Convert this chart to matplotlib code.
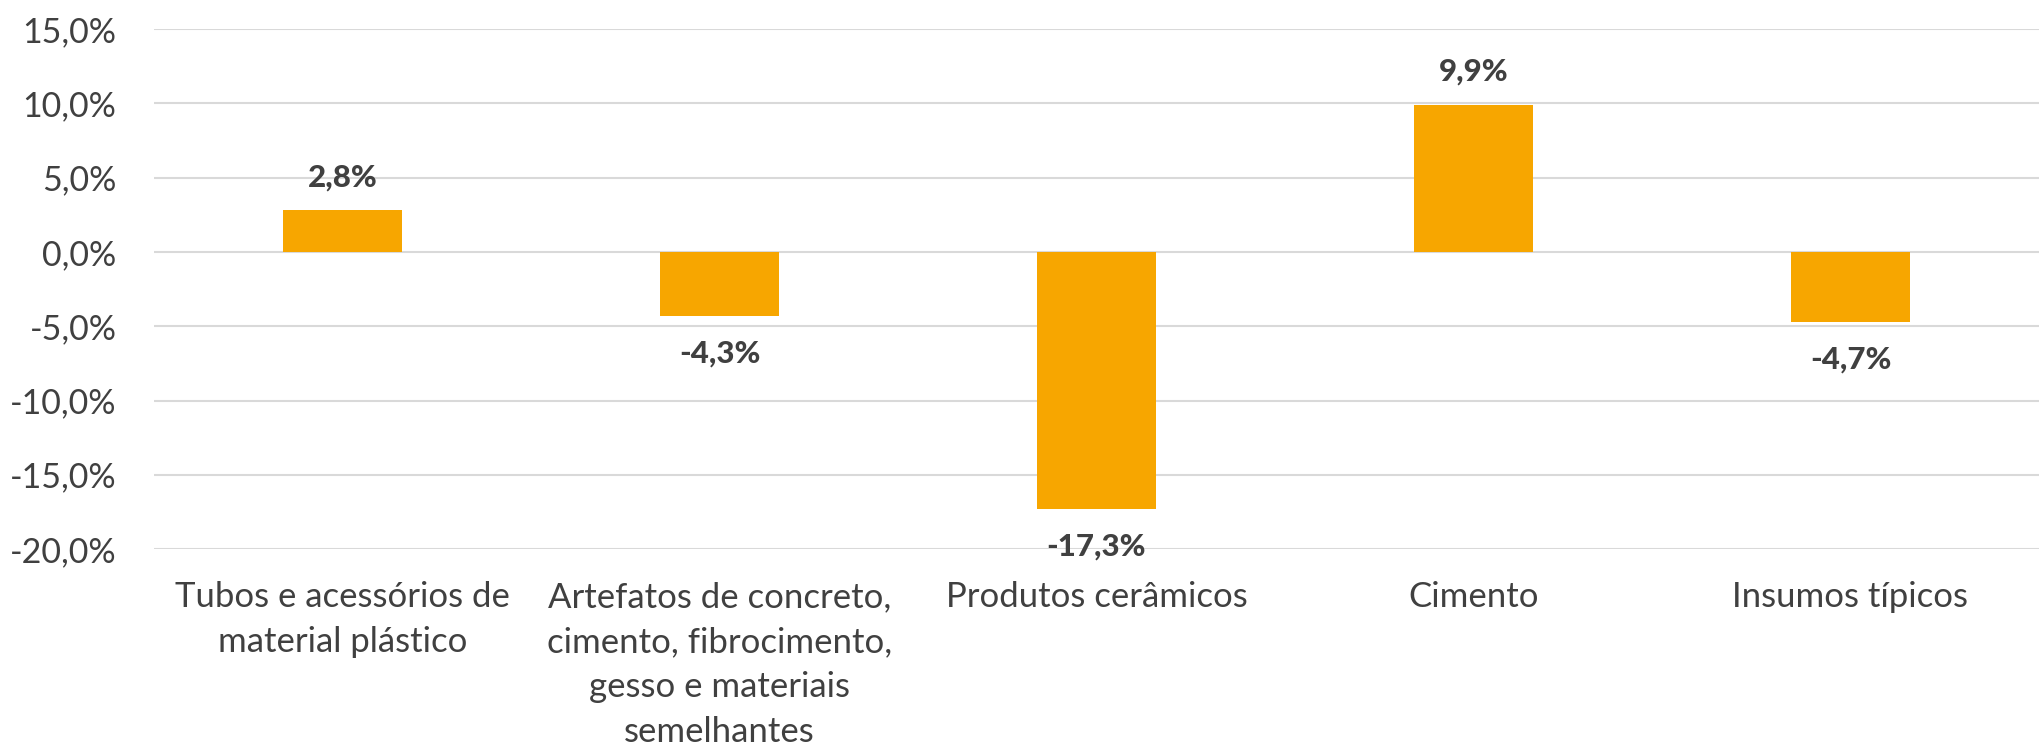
import matplotlib
matplotlib.use("Agg")
import matplotlib.pyplot as plt
import numpy as np

categories = ["Tubos e acessórios de\nmaterial plástico",
              "Artefatos de concreto,\ncimento, fibrocimento,\ngesso e materiais\nsemelhantes",
              "Produtos cerâmicos",
              "Cimento",
              "Insumos típicos"]
values = [2.8, -4.3, -17.3, 9.9, -4.7]
yticks = [-20, -15, -10, -5, 0, 5, 10, 15]

plt.rcParams['font.family'] = ['Lato', 'DejaVu Sans']
txt = '#404040'
bar_color = '#F7A600'

fig = plt.figure(figsize=(20.39, 7.49), dpi=100)
ax = fig.add_axes([0.0755, 0.267, 0.9245, 0.694])
x = np.arange(len(categories))
ax.bar(x, values, width=0.316, color=bar_color, zorder=3)
ax.set_xlim(-0.5, len(categories) - 0.5)
ax.set_ylim(-20, 15)
ax.set_yticks(yticks)
ax.set_yticklabels([f"{v:.1f}%".replace('.', ',') for v in yticks], fontsize=24.5, color=txt)
ax.yaxis.grid(True, color='#D9D9D9', linewidth=1.5, zorder=0)
ax.set_xticks(x)
ax.set_xticklabels(categories, fontsize=25, color=txt, linespacing=1.5, va='top')
ax.tick_params(axis='both', length=0)
ax.tick_params(axis='x', pad=23)
ax.tick_params(axis='y', pad=27)
for s in ax.spines.values():
    s.set_visible(False)

for xi, v in zip(x, values):
    lab = f"{v:.1f}%".replace('.', ',')
    if v >= 0:
        ax.annotate(lab, (xi, v), xytext=(0, 24), textcoords='offset points',
                    ha='center', va='center', fontsize=22.5, fontweight='black', color=txt)
    else:
        ax.annotate(lab, (xi, v), xytext=(0, -27), textcoords='offset points',
                    ha='center', va='center', fontsize=22.5, fontweight='black', color=txt)

fig.savefig("out.png", dpi=100)
